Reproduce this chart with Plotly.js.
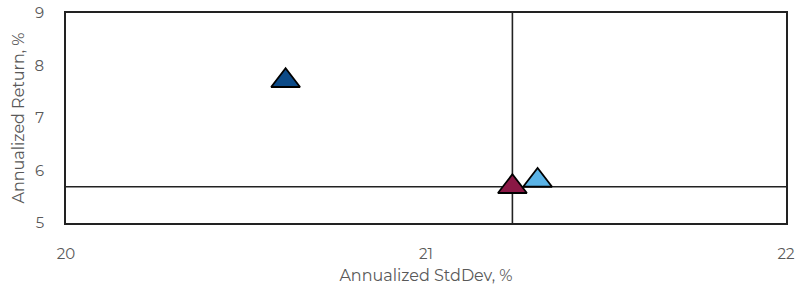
<!DOCTYPE html>
<html>
<head>
<meta charset="utf-8">
<script src="https://cdn.plot.ly/plotly-3.0.1.min.js"></script>
<style>html,body{margin:0;padding:0;background:#fff;}#chart{width:795px;height:287px;}</style>
</head>
<body>
<div id="chart"></div>
<script>
// Data
const seriesNames = ["Fund A", "Benchmark", "Fund B"];
const stdDev = [20.61, 21.24, 21.31];
const annReturn = [7.71, 5.69, 5.81];
const colors = ["#0C4A87", "#8A1845", "#5AB3E6"];
const crossX = 21.24;
const crossY = 5.69;
const xTicks = [20, 21, 22];
const yTicks = [5, 6, 7, 8, 9];

const font = "Montserrat, 'Open Sans', 'DejaVu Sans', sans-serif";
const traces = seriesNames.map((n, i) => ({
  type: "scatter", mode: "markers", name: n,
  x: [stdDev[i]], y: [annReturn[i]],
  marker: {symbol: "triangle-up", size: 25, color: colors[i], line: {color: "#000", width: 1.8}},
  hoverinfo: "skip"
}));

const layout = {
  width: 795, height: 287,
  margin: {l: 66, r: 9, t: 13, b: 64},
  paper_bgcolor: "#fff", plot_bgcolor: "#fff",
  showlegend: false,
  font: {family: font, color: "#595959", size: 15},
  xaxis: {
    range: [20, 22], tickvals: xTicks, ticktext: xTicks.map(String),
    showgrid: false, zeroline: false, showline: true, mirror: true,
    linecolor: "#222", linewidth: 1.8, ticks: "", ticklabelstandoff: 16,
    tickfont: {size: 15, color: "#595959"},
    title: {text: "Annualized StdDev, %", font: {size: 16, color: "#595959"}, standoff: 8}
  },
  yaxis: {
    range: [5, 9], tickvals: yTicks, ticktext: yTicks.map(String),
    showgrid: false, zeroline: false, showline: true, mirror: true,
    linecolor: "#222", linewidth: 1.8, ticks: "", ticklabelstandoff: 17,
    tickfont: {size: 15, color: "#595959"},
    title: {text: "Annualized Return, %", font: {size: 16, color: "#595959"}, standoff: 6}
  },
  shapes: [
    {type: "line", xref: "x", yref: "paper", x0: crossX, x1: crossX, y0: 0, y1: 1, line: {color: "#222", width: 1.6}, layer: "below"},
    {type: "line", xref: "paper", yref: "y", x0: 0, x1: 1, y0: crossY, y1: crossY, line: {color: "#222", width: 1.6}, layer: "below"}
  ]
};

Plotly.newPlot("chart", traces, layout, {staticPlot: true, displayModeBar: false});
</script>
</body>
</html>
